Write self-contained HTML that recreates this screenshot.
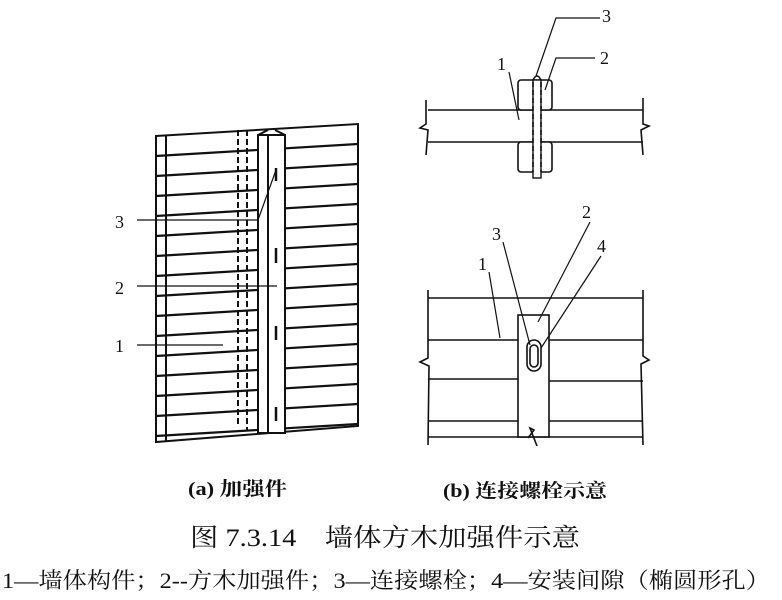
<!DOCTYPE html>
<html><head><meta charset="utf-8"><style>
body{margin:0;background:#fff;width:782px;height:600px;overflow:hidden}
svg{display:block}
text{font-family:"Liberation Serif","Noto Serif CJK SC",serif;fill:#111}
</style></head><body>
<svg width="782" height="600" viewBox="0 0 782 600" stroke="#111" fill="none" stroke-width="1.6">
<!-- Panel (a) -->
<g>
<path d="M156 136 L358 124 L358 426 L156 442 Z" fill="#fff" stroke-width="2"/>
<line x1="166" y1="136" x2="166" y2="441" stroke-width="2"/>
<g stroke-width="2.2">
<line x1="156" y1="156" x2="358" y2="144"/><line x1="156" y1="176" x2="358" y2="164"/>
<line x1="156" y1="196" x2="358" y2="184"/><line x1="156" y1="216" x2="358" y2="204"/>
<line x1="156" y1="236" x2="358" y2="224"/><line x1="156" y1="256" x2="358" y2="244"/>
<line x1="156" y1="276" x2="358" y2="264"/><line x1="156" y1="296" x2="358" y2="284"/>
<line x1="156" y1="316" x2="358" y2="304"/><line x1="156" y1="336" x2="358" y2="324"/>
<line x1="156" y1="356" x2="358" y2="344"/><line x1="156" y1="376" x2="358" y2="364"/>
<line x1="156" y1="396" x2="358" y2="384"/><line x1="156" y1="416" x2="358" y2="404"/>
<line x1="156" y1="436" x2="358" y2="424"/>
</g>
<line x1="238" y1="130" x2="238" y2="425" stroke-dasharray="6 3" stroke-width="2"/>
<line x1="247" y1="130" x2="247" y2="430" stroke-dasharray="6 3" stroke-width="2"/>
<rect x="258" y="135" width="27" height="298" fill="#fff" stroke-width="2"/>
<line x1="268" y1="135" x2="268" y2="433" stroke-width="2"/>
<line x1="258" y1="135" x2="268" y2="130" stroke-width="2"/>
<line x1="285" y1="135" x2="275" y2="130" stroke-width="2"/>
<g stroke-width="2.5">
<line x1="276" y1="168" x2="276" y2="181"/><line x1="276" y1="248" x2="276" y2="263"/>
<line x1="276" y1="326" x2="276" y2="340"/><line x1="276" y1="407" x2="276" y2="421"/>
</g>
<g stroke-width="1.2">
<polyline points="137,220 258,220 276,170"/>
<line x1="137" y1="286" x2="277" y2="286"/>
<line x1="137" y1="345" x2="223" y2="345"/>
</g>
</g>
<text x="115" y="228" font-size="18" stroke="none">3</text>
<text x="115" y="294" font-size="18" stroke="none">2</text>
<text x="115" y="352" font-size="18" stroke="none">1</text>

<!-- Panel (b) top -->
<g>
<line x1="428" y1="110" x2="643" y2="110"/>
<line x1="428" y1="142" x2="643" y2="142"/>
<path d="M426 100 L426 124 L420 128 L428 130 L426 155"/>
<path d="M643 98 L643 124 L649 126 L641 130 L643 155"/>
<rect x="518" y="80" width="34" height="30" rx="3" fill="#fff"/>
<rect x="518" y="142" width="34" height="30" rx="3" fill="#fff"/>
<rect x="533" y="80" width="8" height="98" fill="#fff" stroke-width="1.4"/>
<path d="M533 80 Q537 72 541 80" />
<line x1="533" y1="82" x2="533" y2="172" stroke-dasharray="5 3"/>
<line x1="541" y1="82" x2="541" y2="172" stroke-dasharray="5 3"/>
<g stroke-width="1.2">
<polyline points="600,18 556,18 536,76"/>
<polyline points="595,58 556,58 545,90"/>
<line x1="509" y1="72" x2="519" y2="120"/>
</g>
</g>
<text x="602" y="22" font-size="18" stroke="none">3</text>
<text x="600" y="64" font-size="18" stroke="none">2</text>
<text x="497" y="70" font-size="18" stroke="none">1</text>

<!-- Panel (b) bottom -->
<g>
<line x1="428" y1="298" x2="643" y2="298"/>
<line x1="428" y1="340" x2="518" y2="340"/><line x1="549" y1="340" x2="643" y2="340"/>
<line x1="428" y1="379" x2="518" y2="379"/><line x1="549" y1="381" x2="643" y2="381"/>
<line x1="428" y1="421" x2="518" y2="421"/><line x1="549" y1="421" x2="643" y2="421"/>
<line x1="428" y1="437" x2="643" y2="437"/>
<path d="M428 290 L428 358 L420 362 L429 366 L428 445"/>
<path d="M643 290 L643 356 L649 360 L641 364 L643 445"/>
<rect x="518" y="315" width="31" height="122" fill="#fff"/>
<path d="M528 438 L534 430 L530 428 L537 446" />
<rect x="527" y="340" width="14" height="31" rx="7" fill="#fff"/>
<rect x="530" y="345" width="8" height="22" rx="4" fill="#fff"/>
<g stroke-width="1.2">
<line x1="489" y1="272" x2="500" y2="338"/>
<line x1="503" y1="242" x2="530" y2="345"/>
<line x1="590" y1="222" x2="538" y2="322"/>
<line x1="601" y1="256" x2="541" y2="348"/>
</g>
</g>
<text x="478" y="270" font-size="18" stroke="none">1</text>
<text x="492" y="240" font-size="18" stroke="none">3</text>
<text x="582" y="218" font-size="18" stroke="none">2</text>
<text x="597" y="252" font-size="18" stroke="none">4</text>

<text x="188" y="495" font-size="19" stroke="none" font-weight="bold" textLength="99" lengthAdjust="spacingAndGlyphs">(a) 加强件</text>
<text x="443" y="497" font-size="19" stroke="none" font-weight="bold" textLength="164" lengthAdjust="spacingAndGlyphs">(b) 连接螺栓示意</text>
<text x="190" y="546" font-size="25" stroke="none" textLength="390" lengthAdjust="spacingAndGlyphs">图 7.3.14　墙体方木加强件示意</text>
<text x="2" y="588" font-size="22" stroke="none" textLength="768" lengthAdjust="spacingAndGlyphs">1—墙体构件；2--方木加强件；3—连接螺栓；4—安装间隙（椭圆形孔）</text>
</svg>
</body></html>
